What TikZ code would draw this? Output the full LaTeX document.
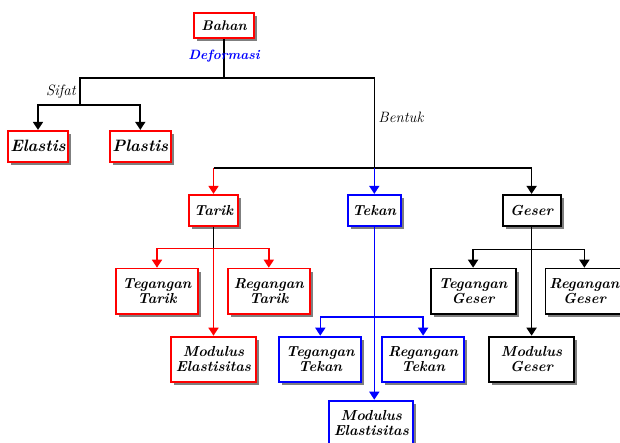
\documentclass[tikz,border=0pt]{standalone}
\usetikzlibrary{arrows.meta, positioning, shadows}

\begin{document}
\begin{tikzpicture}[
    x=1pt, y=1pt,
    % box styles
    boxbase/.style={rectangle, fill=white, line width=1.8pt, align=center,
        inner sep=1pt, font=\fontsize{14.5}{15.5}\selectfont\bfseries\itshape,
        drop shadow={shadow xshift=3pt, shadow yshift=-3pt, fill=black, opacity=0.5}},
    redbox/.style={boxbase, draw=red},
    bluebox/.style={boxbase, draw=blue},
    blackbox/.style={boxbase, draw=black},
    smallbox/.style={minimum height=31pt},
    twobox/.style={minimum width=82pt, minimum height=45pt},
    lbl/.style={font=\fontsize{15}{17}\selectfont\itshape, text=black},
    line/.style={line width=1.6pt, draw=black},
    arrow/.style={-{Triangle[width=10pt, length=8pt]}, line width=1.6pt, draw=black},
    redarrow/.style={arrow, draw=red},
    bluearrow/.style={arrow, draw=blue},
]
\useasboundingbox (-224,25.5) rectangle (396,-417.5);

% ============ Root ============
\node[redbox, minimum width=60pt, minimum height=25pt,
    font=\fontsize{14}{15}\selectfont\bfseries\itshape] (bahan) {Bahan};

% ============ Sifat ============
\node[redbox, smallbox, minimum width=60pt, below=91pt of bahan, xshift=-186pt,
    font=\fontsize{16.5}{18}\selectfont\bfseries\itshape] (elastis) {Elastis};
\node[redbox, smallbox, minimum width=61pt, right=40pt of elastis,
    font=\fontsize{16.5}{18}\selectfont\bfseries\itshape] (plastis) {Plastis};

% ============ Bentuk ============
\node[redbox, smallbox, minimum width=49pt, below=155pt of bahan, xshift=-10.5pt] (tarik) {Tarik};
\node[bluebox, smallbox, minimum width=53pt, right=108pt of tarik] (tekan) {Tekan};
\node[blackbox, smallbox, minimum width=58pt, right=100pt of tekan] (geser) {Geser};

% Tarik
\node[redbox, twobox, below=41pt of tarik, xshift=-56.5pt] (tegtarik) {Tegangan\\Tarik};
\node[redbox, twobox, right=28pt of tegtarik] (regtarik) {Regangan\\Tarik};
\node[redbox, twobox, minimum width=85pt, below=109pt of tarik] (modtarik) {Modulus\\Elastisitas};

% Tekan
\node[bluebox, twobox, below=109pt of tekan, xshift=-54pt] (tegtekan) {Tegangan\\Tekan};
\node[bluebox, twobox, right=19pt of tegtekan] (regtekan) {Regangan\\Tekan};
\node[bluebox, twobox, minimum width=84pt, below=173pt of tekan, xshift=-3pt] (modtekan) {Modulus\\Elastisitas};

% Geser
\node[blackbox, twobox, minimum width=85pt, below=41pt of geser, xshift=-58.5pt] (teggeser) {Tegangan\\Geser};
\node[blackbox, twobox, minimum width=78pt, right=28pt of teggeser] (reggeser) {Regangan\\Geser};
\node[blackbox, twobox, minimum width=85pt, below=109pt of geser] (modgeser) {Modulus\\Geser};

% ============ Junctions ============
\coordinate[below=39pt of bahan.south] (j1);
\coordinate[above=25pt of elastis.north, xshift=42pt] (j2);
\coordinate[above=26pt of tekan.north] (j3);
\coordinate[below=22pt of tarik.south] (j4);
\coordinate[above=19pt of tegtekan.north] (j5);
\coordinate[below=23pt of geser.south] (j6);

% ============ Connectors ============
\draw[line] (bahan) -- (j1)
    node[pos=0.44, font=\fontsize{13.5}{15}\selectfont\bfseries\itshape, text=blue] {Deformasi};
\draw[line] (j1) -| (j2) node[pos=0.75, left, lbl] {Sifat};
\draw[arrow] (j2) -| (elastis);
\draw[arrow] (j2) -| (plastis);

\draw[line] (j1) -| (j3) node[pos=0.72, right, lbl] {Bentuk};
\draw[line] (tarik |- j3) -- (geser |- j3);
\draw[redarrow] (tarik |- j3) -- (tarik);
\draw[bluearrow] (j3) -- (tekan);
\draw[arrow] (geser |- j3) -- (geser);

% Tarik
\draw[line] (tarik) -- (j4);
\draw[redarrow] (j4) -| (tegtarik);
\draw[redarrow] (j4) -| (regtarik);
\draw[redarrow] (j4) -- (modtarik);

% Tekan
\draw[bluearrow] (tekan) -- (tekan |- modtekan.north);
\draw[bluearrow] (tekan |- j5) -| (tegtekan);
\draw[bluearrow] (tekan |- j5) -| (regtekan);

% Geser
\draw[arrow] (geser) -- (modgeser);
\draw[arrow] (j6) -| (teggeser);
\draw[arrow] (j6) -| (reggeser);

\end{tikzpicture}
\end{document}
